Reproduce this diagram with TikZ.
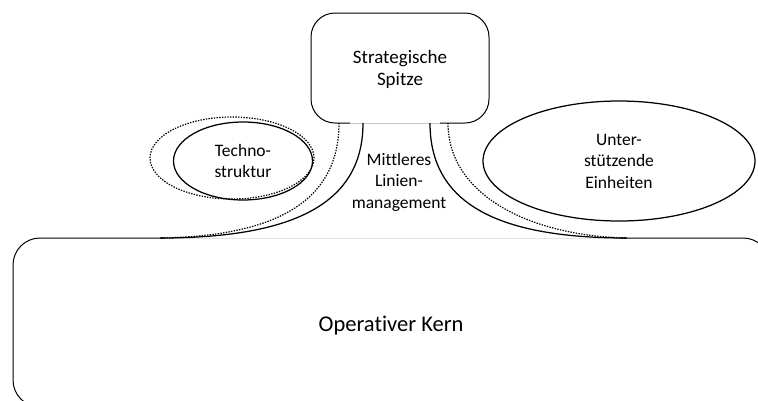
\documentclass[tikz,border=0pt]{standalone}
\usepackage{fontspec}
\setmainfont{Carlito}[Ligatures=CommonOff]
\usetikzlibrary{shapes.geometric}
\begin{document}
\begin{tikzpicture}[x=1pt,y=-1pt,
  solidline/.style={line width=1.25pt},
  dotline/.style={line width=1.2pt, dash pattern=on 1.4pt off 1.3pt},
  lbl/.style={align=center, font=\fontsize{17.5}{21.5}\selectfont},
  boxshape/.style={draw, line width=1pt, inner sep=0pt, outer sep=0pt}]
\useasboundingbox (0,0) rectangle (758,400);
\begin{scope}
\clip (0,0) rectangle (758,400);
% operating core, cut by the page edge
\node[boxshape, rounded corners=27pt, minimum width=757pt, minimum height=169pt,
      anchor=north west] (kern) at (13,238) {};
\draw[white, line width=2pt] (165,238) -- (620,238);
\draw[black!10, line width=0.8pt] (165,238) -- (620,238);
\node[font=\fontsize{22.5}{27}\selectfont] (kernlabel) at (391,326) {Operativer Kern};

% strategic apex
\node[boxshape, rounded corners=24pt, minimum width=178pt, minimum height=110pt,
      anchor=north west, align=center, font=\fontsize{19}{22.5}\selectfont,
      text depth=0pt]
      (spitze) at (311,13) {Strategische\\Spitze};
\draw[white, line width=2pt] (350,123) -- (440,123);
\draw[black!22, line width=0.8pt] (350,123) -- (440,123);

% end points of the middle line
\coordinate (la) at (363,123);
\coordinate (lb) at (339,123);
\coordinate (ra) at (430,123);
\coordinate (rb) at (448,123);
\coordinate (le) at (160,238);
\coordinate (re) at (627,238);

\draw[solidline] (la) .. controls (363,200) and (300,238) .. (le);
\draw[dotline] (lb) .. controls (339,185) and (300,236) .. (le);
\draw[solidline] (ra) .. controls (430,205) and (500,238) .. (re);
\draw[dotline] (rb) .. controls (448,195) and (530,236) .. (re);

% technostructure
\node[ellipse, draw, dotline, minimum width=164pt, minimum height=82pt, inner sep=0pt]
      (technohull) at (232,158) {};
\node[ellipse, draw, solidline, minimum width=139pt, minimum height=78pt, inner sep=0pt, lbl]
      (techno) at (243,161) {Techno-\\struktur};

% support staff
\node[ellipse, draw, solidline, minimum width=272pt, minimum height=120pt, inner sep=0pt, lbl]
      (unter) at (619,161) {Unter-\\stützende\\Einheiten};

% middle line label
\node[lbl] (mitte) at (399,182) {Mittleres\\Linien-\\management};
\end{scope}
\end{tikzpicture}
\end{document}
